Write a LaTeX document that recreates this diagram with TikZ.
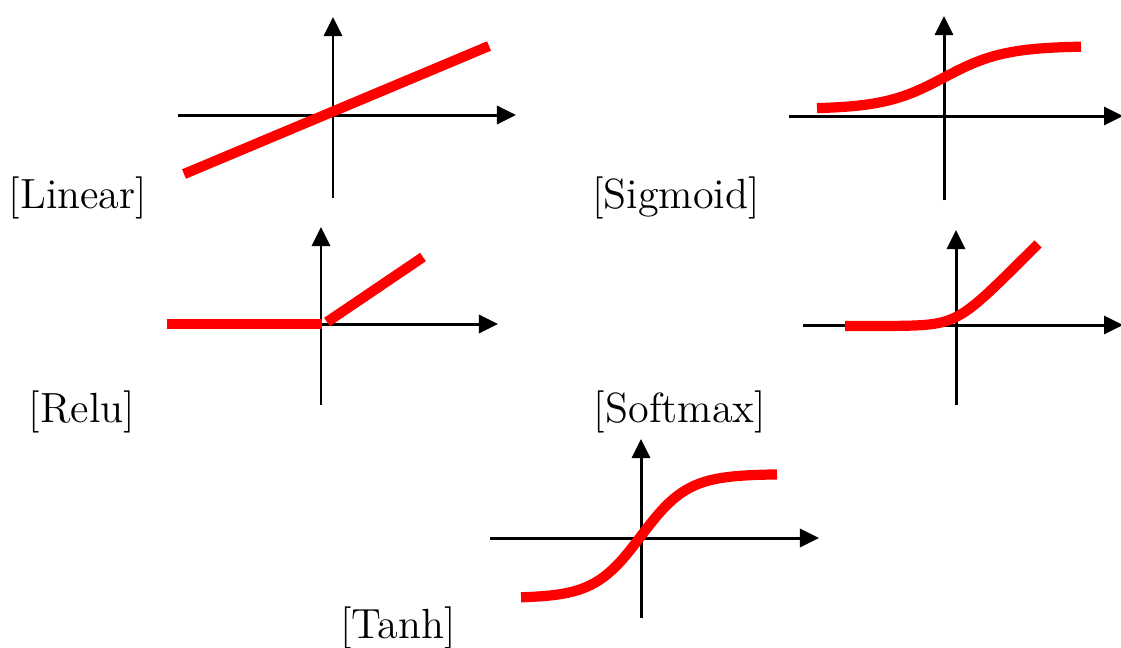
\documentclass[tikz,border=0pt]{standalone}
\usepackage{tikz}
\usetikzlibrary{arrows.meta}
\tikzset{
  ax/.style={line width=0.85pt,-{Triangle[length=1.9mm,width=1.8mm]}},
  fn/.style={draw=red,line width=2.9pt},
  lbl/.style={font=\fontsize{12}{14}\selectfont,inner sep=0pt},
}
\begin{document}
\begin{tikzpicture}[x=0.01cm,y=-0.01cm]
  \useasboundingbox (0,0) rectangle (1121,647);
  % linear
  \draw[ax] (178,115) -- (516,115);
  \draw[ax] (333,198) -- (333,17);
  \draw[fn] (184,174) -- (489,46);
  \node[lbl] (linear) at (78,198) {[Linear]};
  % sigmoid
  \draw[ax] (789,116) -- (1123,116);
  \draw[ax] (944,200) -- (944,16);
  \draw[fn] plot[domain=817:1081,samples=60] (\x,{109-63/(1+exp(-(\x-944)/30))});
  \node[lbl] (sigmoid) at (676,198) {[Sigmoid]};
  % relu
  \draw[ax] (168,324) -- (498,324);
  \draw[ax] (321,405) -- (321,227);
  \draw[fn] (167,324) -- (322,324);
  \draw[fn] (327,322) -- (423,257);
  \node[lbl] (relu) at (82,412) {[Relu]};
  % softmax
  \draw[ax] (803,325) -- (1123,325);
  \draw[ax] (956,405) -- (956,230);
  \draw[fn] plot[domain=845:1038,samples=60] (\x,{326-13*ln(1+exp((\x-956)/13))});
  \node[lbl] (softmax) at (680,412) {[Softmax]};
  % tanh
  \draw[ax] (490,538) -- (819,538);
  \draw[ax] (641,618) -- (641,439);
  \draw[fn] plot[domain=521:777,samples=60] (\x,{536-62*tanh((\x-641)/47)});
  \node[lbl] (tanh) at (398,628) {[Tanh]};
\end{tikzpicture}
\end{document}
